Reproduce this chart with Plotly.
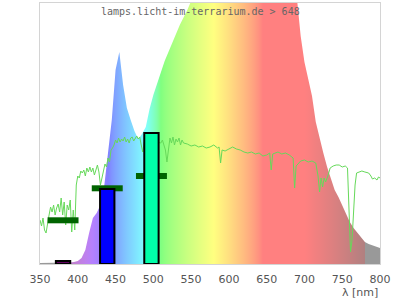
import plotly.graph_objects as go

# ---- data ----
spec_wl = list(range(350, 801, 5))
spec_val = [1, 1, 1, 1, 1, 1, 1.3, 1.5, 1.5, 2, 3, 6, 14, 31, 46, 51, 59, 78, 112, 144,
            194, 212, 179, 156, 144, 133, 125, 130, 137, 155, 169, 181, 193, 203, 212, 222,
            230, 239, 246, 254, 263, 272, 280, 285, 290, 295, 298, 300, 303, 305, 307, 307,
            307, 307, 307, 307, 305, 305, 303, 300, 298, 295, 292, 290, 285, 280, 274, 269,
            266, 228, 202, 186, 168, 142, 125, 111, 97, 86, 74, 67, 59, 50, 42, 36, 31, 26,
            22, 20, 18.5, 17, 16]

sun_wl = [350, 352, 354, 356, 358, 360, 362, 364, 366, 368, 370, 372, 374, 376, 378, 380,
          382, 384, 386, 388, 390, 392, 394, 396, 398, 400, 402, 404, 406, 408, 410, 412,
          414, 416, 418, 420, 422, 424, 426, 428, 430, 432, 434, 436, 438, 440, 442, 444,
          446, 448, 450, 452, 454, 456, 458, 460, 462, 464, 466, 468, 470, 472, 474, 476,
          478, 480, 482, 484, 486, 488, 490, 495, 500, 505, 510, 512, 514, 516, 518, 520,
          522, 524, 526, 528, 530, 532, 534, 536, 538, 540, 545, 550, 555, 560, 565, 570,
          575, 580, 585, 587, 589, 591, 595, 600, 605, 610, 615, 620, 625, 630, 635, 640,
          645, 650, 654, 656, 658, 665, 670, 675, 680, 685, 687, 689, 695, 700, 705, 710,
          715, 718, 720, 722, 724, 726, 728, 731, 734, 738, 742, 746, 750, 754, 757, 759,
          761, 763, 765, 767, 769, 772, 776, 780, 785, 788, 790, 793, 796, 798, 800]
sun_val = [44, 38, 46, 34, 31, 42, 49, 57, 52, 59, 49, 56, 60, 52, 66, 49,
           62, 39, 59, 54, 64, 32, 54, 34, 79, 88, 86, 93, 91, 94, 88, 96,
           92, 97, 92, 96, 89, 94, 99, 92, 79, 86, 92, 100, 97, 106, 102, 114,
           116, 119, 124, 121, 126, 122, 125, 123, 127, 122, 125, 121, 126, 127, 123, 126,
           128, 125, 127, 119, 112, 122, 124, 123, 124, 122, 121, 124, 119, 114, 102, 116,
           126, 121, 127, 119, 125, 122, 126, 119, 124, 121, 120, 118, 119, 117, 118, 116,
           117, 119, 116, 117, 101, 114, 113, 115, 117, 115, 114, 112, 111, 112, 110, 111,
           108, 109, 111, 94, 110, 112, 110, 111, 109, 106, 76, 98, 103, 104, 102, 103,
           101, 88, 72, 86, 77, 86, 82, 88, 96, 98, 99, 99, 97, 98, 96, 54,
           12, 24, 49, 79, 91, 92, 93, 92, 91, 88, 85, 86, 84, 87, 86]

bar_center = [380.5, 439, 497.5]
bar_value = [3, 75, 131]
bar_colors = ["#600060", "#0000ff", "#00ffa8"]
mark_value = [43.7, 75.7, 88]
mark_halfwidth = 20.5

tick_vals = list(range(350, 801, 50))
tick_text = [str(v) for v in tick_vals]

title_text = "lamps.licht-im-terrarium.de > 648"
axis_title = "λ [nm]"


# ---- spectral colour helper ----
def wl_color(w):
    if w < 380 or w >= 780:
        return (153, 153, 153)
    if w < 440:
        r, g, b = -(w - 440) / 60, 0.0, 1.0
    elif w < 490:
        r, g, b = 0.0, (w - 440) / 50, 1.0
    elif w < 510:
        r, g, b = 0.0, 1.0, -(w - 510) / 20
    elif w < 580:
        r, g, b = (w - 510) / 70, 1.0, 0.0
    elif w < 645:
        r, g, b = 1.0, -(w - 645) / 65, 0.0
    else:
        r, g, b = 1.0, 0.0, 0.0
    if w < 420:
        f = 0.3 + 0.7 * (w - 380) / 40
    elif w > 700:
        f = 0.3 + 0.7 * (780 - w) / 80
    else:
        f = 1.0
    comp = [(c * f) ** 0.8 if c > 0 else 0 for c in (r, g, b)]
    return tuple(int(round(127.5 + 127.5 * c)) for c in comp)


lo, hi = 350, 800
stops = [350, 379.5] + list(range(380, 780, 5)) + [779.5, 780, 800]
cs = []
for w in stops:
    c = wl_color(min(w, 779.9) if w < 780 else w)
    cs.append([(w - lo) / (hi - lo), "rgb(%d,%d,%d)" % c])

fig = go.Figure()

fig.add_trace(go.Scatter(
    x=spec_wl, y=spec_val, mode="lines", line=dict(width=0),
    fill="tozeroy",
    fillgradient=dict(type="horizontal", colorscale=cs, start=lo, stop=hi),
    hoverinfo="skip", xaxis="x", yaxis="y"))

fig.add_trace(go.Scatter(
    x=sun_wl, y=sun_val, mode="lines",
    line=dict(color="#66d95a", width=1), xaxis="x", yaxis="y"))

mx, my = [], []
for c, v in zip(bar_center, mark_value):
    mx += [c - mark_halfwidth, c + mark_halfwidth, None]
    my += [v, v, None]
fig.add_trace(go.Scatter(x=mx, y=my, mode="lines",
                         line=dict(color="#006400", width=6), xaxis="x", yaxis="y"))

fig.add_trace(go.Bar(
    x=bar_center, y=bar_value, width=19,
    marker=dict(color=bar_colors, line=dict(color="#000000", width=2)),
    xaxis="x2", yaxis="y2"))

fig.update_layout(
    width=400, height=300,
    margin=dict(l=40, r=20, t=3, b=36),
    paper_bgcolor="white", plot_bgcolor="white",
    showlegend=False,
    xaxis=dict(range=[lo, hi], tickvals=tick_vals, ticktext=tick_text,
               showgrid=False, zeroline=False, showline=True, mirror=True,
               linecolor="#d4d4d4", linewidth=1, ticks="",
               ticklabelstandoff=5,
               tickfont=dict(family="DejaVu Sans", size=11, color="#555555")),
    yaxis=dict(range=[0, 261], showticklabels=False, showgrid=False, zeroline=False,
               showline=True, mirror=True, linecolor="#d4d4d4", linewidth=1, ticks=""),
    xaxis2=dict(range=[lo, hi], overlaying="x", visible=False),
    yaxis2=dict(range=[0, 261], overlaying="y", visible=False),
    annotations=[
        dict(text=title_text, xref="paper", yref="paper", x=0.472, y=0.967,
             xanchor="center", yanchor="middle", showarrow=False,
             font=dict(family="DejaVu Sans Mono", size=10, color="#666666")),
        dict(text=axis_title, xref="paper", yref="paper", x=1.0, y=-0.108,
             xanchor="right", yanchor="middle", showarrow=False,
             font=dict(family="DejaVu Sans", size=11, color="#555555")),
    ],
)

fig.write_html("out.html")
